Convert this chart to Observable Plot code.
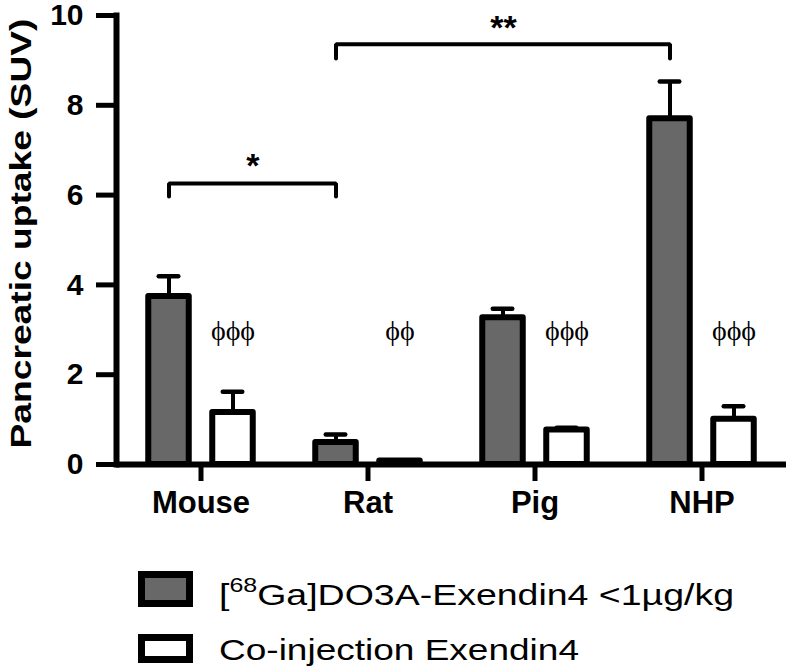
<!DOCTYPE html>
<html>
<head>
<meta charset="utf-8">
<script src="https://cdn.jsdelivr.net/npm/d3@7"></script>
<script src="https://cdn.jsdelivr.net/npm/@observablehq/plot@0.6"></script>
<style>
  body { margin: 0; background: #fff; }
  #legend { position: relative; width: 790px; height: 140px; font-family: "Liberation Sans", Arial, sans-serif; color: #000; }
  .sw { position: absolute; box-sizing: border-box; border: 7px solid #000; }
  .lt { position: absolute; font-size: 30px; line-height: 30px; white-space: nowrap; transform-origin: 0 0; }
</style>
</head>
<body>
<div id="chart"></div>
<div id="legend"></div>
<script>
// ---- data ----
const groups = ["Mouse", "Rat", "Pig", "NHP"];
const gaMean = [3.74, 0.49, 3.27, 7.70];
const gaErr  = [0.45, 0.18, 0.20, 0.83];
const coMean = [1.16, 0.08, 0.77, 1.01];
const coErr  = [0.46, 0.00, 0.05, 0.29];
const phiLabels = ["\u03D5\u03D5\u03D5", "\u03D5\u03D5", "\u03D5\u03D5\u03D5", "\u03D5\u03D5\u03D5"];
const phiY = 2.77;
const yTicks = [0, 2, 4, 6, 8, 10];
const yTitle = "Pancreatic uptake (SUV)";
const seriesNames = ["[68Ga]DO3A-Exendin4 <1\u00B5g/kg", "Co-injection Exendin4"];
const seriesFill = ["#686868", "#ffffff"];
const bracketFrom  = ["Mouse", "Rat"];
const bracketTo    = ["Rat", "NHP"];
const bracketTop   = [6.26, 9.36];
const bracketFoot  = [5.97, 9.04];
const bracketLabel = ["*", "**"];
const bracketLabelY = [6.40, 9.47];

// ---- layout ----
const W = 790, H = 530, mL = 116, mR = 4, mT = 15, mB = 66;
const step = (W - mL - mR) / groups.length;
const off = 32;          // half distance between paired bars
const barInset = (step - 41) / 2;
const capInset = (step - 20) / 2;

const table = groups.map((g, i) => ({group: g, ga: gaMean[i], gaErr: gaErr[i], co: coMean[i], coErr: coErr[i], phi: phiLabels[i]}));

const bracketPts = [];
bracketFrom.forEach((f, i) => {
  bracketPts.push({b: i, x: f, y: bracketFoot[i]});
  bracketPts.push({b: i, x: f, y: bracketTop[i]});
  bracketPts.push({b: i, x: bracketTo[i], y: bracketTop[i]});
  bracketPts.push({b: i, x: bracketTo[i], y: bracketFoot[i]});
});
const bracketLabelMarks = bracketFrom.map((f, i) => Plot.text([i], {
  x: () => f, y: () => bracketLabelY[i], text: () => bracketLabel[i],
  dx: -off + (groups.indexOf(bracketTo[i]) - groups.indexOf(f)) * step / 2,
  lineAnchor: "bottom", fontSize: 34, fontWeight: "bold"
}));

const chart = Plot.plot({
  width: W, height: H, marginLeft: mL, marginRight: mR, marginTop: mT, marginBottom: mB,
  style: {fontFamily: "'Liberation Sans', Arial, sans-serif", color: "#000", background: "#fff", overflow: "visible"},
  x: {type: "band", domain: groups, padding: 0},
  y: {domain: [0, 10]},
  marks: [
    Plot.ruleX(table, {x: "group", y1: "ga", y2: d => d.ga + d.gaErr, dx: -off, strokeWidth: 4}),
    Plot.tickY(table, {x: "group", y: d => d.ga + d.gaErr, dx: -off, insetLeft: capInset, insetRight: capInset, strokeWidth: 4.5, strokeLinecap: "round"}),
    Plot.ruleX(table.filter(d => d.coErr > 0), {x: "group", y1: "co", y2: d => d.co + d.coErr, dx: off, strokeWidth: 4}),
    Plot.tickY(table.filter(d => d.coErr > 0), {x: "group", y: d => d.co + d.coErr, dx: off, insetLeft: capInset, insetRight: capInset, strokeWidth: 4.5, strokeLinecap: "round"}),
    Plot.barY(table, {x: "group", y: "ga", dx: -off, insetLeft: barInset, insetRight: barInset, fill: seriesFill[0], stroke: "#000", strokeWidth: 6, strokeLinejoin: "round"}),
    Plot.barY(table, {x: "group", y: "co", dx: off, insetLeft: barInset, insetRight: barInset, fill: seriesFill[1], stroke: "#000", strokeWidth: 6, strokeLinejoin: "round"}),
    Plot.text(table, {x: "group", y: () => phiY, text: "phi", dx: off, lineAnchor: "bottom", fontFamily: "'Liberation Serif', 'DejaVu Serif', serif", fontSize: 28, fontWeight: "normal"}),
    Plot.line(bracketPts, {x: "x", y: "y", z: "b", dx: -off, stroke: "#000", strokeWidth: 4, strokeLinejoin: "miter", strokeLinecap: "round"}),
    ...bracketLabelMarks,
    Plot.axisY({ticks: yTicks, tickSize: 20, tickPadding: 13, strokeWidth: 5, fontSize: 30, fontWeight: "bold", label: null, tickFormat: d => String(d)}),
    Plot.axisX({tickSize: 17, tickPadding: 9, strokeWidth: 5, fontSize: 31, fontWeight: "bold", label: null}),
    Plot.ruleY([0], {strokeWidth: 6}),
    Plot.frame({anchor: "left", strokeWidth: 6}),
    Plot.text([yTitle], {text: d => d, frameAnchor: "left", rotate: -90, textAnchor: "middle", lineAnchor: "bottom", dx: 30 - mL, dy: 233 - (mT + H - mB) / 2, fontSize: 29, fontWeight: "bold"})
  ]
});
document.getElementById("chart").appendChild(chart);

d3.select(chart).selectAll("text").filter(function() { return this.textContent === yTitle; })
  .attr("textLength", 430).attr("lengthAdjust", "spacingAndGlyphs");

// ---- legend (HTML, below the SVG) ----
const legend = document.getElementById("legend");
const rows = [
  {swTop: 41, swH: 36, textTop: 49.6, width: 515},
  {swTop: 104, swH: 29, textTop: 104.6, width: 360}
];
seriesNames.forEach((name, i) => {
  const r = rows[i];
  const sw = document.createElement("div");
  sw.className = "sw";
  sw.style.left = "138px"; sw.style.top = r.swTop + "px";
  sw.style.width = "55px"; sw.style.height = r.swH + "px";
  sw.style.background = seriesFill[i];
  legend.appendChild(sw);
  const t = document.createElement("span");
  t.className = "lt";
  t.style.left = "219px"; t.style.top = r.textTop + "px";
  const m = name.match(/^\[(\d+)(.*)$/);
  if (m) {
    t.appendChild(document.createTextNode("["));
    const sup = document.createElement("span");
    sup.textContent = m[1];
    sup.style.fontSize = "20px"; sup.style.position = "relative"; sup.style.top = "-13px";
    t.appendChild(sup);
    t.appendChild(document.createTextNode(m[2]));
  } else {
    t.textContent = name;
  }
  legend.appendChild(t);
  const w = t.getBoundingClientRect().width;
  t.style.transform = `scaleX(${r.width / w})`;
});
</script>
</body>
</html>
